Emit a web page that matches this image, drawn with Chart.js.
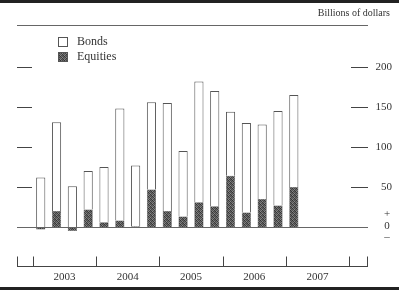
<!DOCTYPE html>
<html>
<head>
<meta charset="utf-8">
<script src="https://cdn.jsdelivr.net/npm/chart.js@4/dist/chart.umd.min.js"></script>
<style>
html, body { margin: 0; padding: 0; background: #fff; }
#wrap { position: relative; width: 399px; height: 291px; }
</style>
</head>
<body>
<div id="wrap"><canvas id="chart" width="399" height="291"></canvas></div>
<script>
// Quarterly issuance, billions of dollars (2002 Q4 and after 2007 Q1 are empty slots on the axis)
const quarters = ['2002 Q4',
  '2003 Q1', '2003 Q2', '2003 Q3', '2003 Q4',
  '2004 Q1', '2004 Q2', '2004 Q3', '2004 Q4',
  '2005 Q1', '2005 Q2', '2005 Q3', '2005 Q4',
  '2006 Q1', '2006 Q2', '2006 Q3', '2006 Q4',
  '2007 Q1', '2007 Q2', '2007 Q3', '2007 Q4',
  '2008 Q1'];
const years = ['2003', '2004', '2005', '2006', '2007'];
const bonds = [null, 62, 111, 51, 48, 69, 140, 76, 109, 135, 82, 151, 144, 80, 112, 93, 118, 115, null, null, null, null];
const equities = [null, -3, 20, -5, 22, 6, 8, 1, 47, 20, 13, 31, 26, 64, 18, 35, 27, 50, null, null, null, null];
const yTicks = [50, 100, 150, 200];

const serif = '"Liberation Serif", "DejaVu Serif", serif';
const ink = '#333';
const axisRight = 368;

// stippled fill for the equities bars
function stipple() {
  const c = document.createElement('canvas');
  c.width = 4; c.height = 4;
  const g = c.getContext('2d');
  const shades = ['#333', '#7a7a7a', '#4a4a4a', '#666',
                  '#6a6a6a', '#3c3c3c', '#888', '#454545',
                  '#555', '#808080', '#383838', '#707070',
                  '#8a8a8a', '#424242', '#5e5e5e', '#363636'];
  shades.forEach((s, i) => { g.fillStyle = s; g.fillRect(i % 4, Math.floor(i / 4), 1, 1); });
  return g.createPattern(c, 'repeat');
}
const equityFill = stipple();

const frame = {
  id: 'frame',
  afterDraw(chart) {
    const ctx = chart.ctx;
    const x = chart.scales.x, y = chart.scales.y;
    const area = chart.chartArea;
    const step = x.getPixelForValue(1) - x.getPixelForValue(0);
    const edge = i => x.getPixelForValue(i) - step / 2;
    ctx.save();

    // top and bottom rules
    ctx.fillStyle = '#222';
    ctx.fillRect(0, 0, 399, 3);
    ctx.fillRect(0, 287, 399, 3);

    ctx.font = '10px ' + serif;
    ctx.fillStyle = ink;
    ctx.textAlign = 'right';
    ctx.textBaseline = 'middle';
    ctx.fillText('Billions of dollars', 390, 13);

    ctx.strokeStyle = '#666';
    ctx.lineWidth = 1;
    ctx.beginPath();
    ctx.moveTo(area.left, 25.5); ctx.lineTo(axisRight, 25.5);
    ctx.stroke();

    // legend
    const ds = chart.data.datasets;
    const items = [ds[1], ds[0]];
    ctx.font = '12px ' + serif;
    ctx.textAlign = 'left';
    items.forEach((d, i) => {
      const ty = 42 + i * 15;
      ctx.fillStyle = d.backgroundColor;
      ctx.fillRect(58, ty - 5, 10, 10);
      ctx.strokeStyle = '#555';
      ctx.strokeRect(58.5, ty - 4.5, 9, 9);
      ctx.fillStyle = ink;
      ctx.fillText(d.label, 77, ty);
    });

    // y ticks on both sides
    ctx.strokeStyle = '#444';
    ctx.font = '11px ' + serif;
    ctx.textAlign = 'right';
    yTicks.forEach(v => {
      const py = Math.round(y.getPixelForValue(v)) + 0.5;
      ctx.beginPath();
      ctx.moveTo(area.left, py); ctx.lineTo(area.left + 15, py);
      ctx.moveTo(axisRight - 17, py); ctx.lineTo(axisRight, py);
      ctx.stroke();
      ctx.fillText(String(v), 392, py);
    });
    const zy = Math.round(y.getPixelForValue(0)) + 0.5;
    ctx.strokeStyle = '#666';
    ctx.beginPath();
    ctx.moveTo(area.left, zy); ctx.lineTo(axisRight, zy);
    ctx.stroke();
    ctx.textAlign = 'center';
    ctx.fillText('+', 387, zy - 13);
    ctx.fillText('0', 387, zy - 1);
    ctx.fillText('\u2013', 387, zy + 10);

    // bottom axis with year brackets
    ctx.strokeStyle = '#444';
    const by = area.bottom - 0.5;
    ctx.beginPath();
    ctx.moveTo(area.left, by); ctx.lineTo(axisRight, by);
    [area.left + 0.5, axisRight - 0.5].forEach(px => { ctx.moveTo(px, by); ctx.lineTo(px, by - 10); });
    years.forEach((yr, k) => {
      const i = quarters.indexOf(yr + ' Q1');
      const px = Math.round(edge(i)) + 0.5;
      ctx.moveTo(px, by); ctx.lineTo(px, by - 10);
      if (k === years.length - 1) {
        const pe = Math.round(edge(i + 4)) + 0.5;
        ctx.moveTo(pe, by); ctx.lineTo(pe, by - 10);
      }
    });
    ctx.stroke();
    ctx.font = '11px ' + serif;
    ctx.textBaseline = 'middle';
    years.forEach(yr => {
      const i = quarters.indexOf(yr + ' Q1');
      ctx.fillText(yr, (edge(i) + edge(i + 4)) / 2, 277);
    });
    ctx.restore();
  }
};

new Chart(document.getElementById('chart'), {
  type: 'bar',
  data: {
    labels: quarters,
    datasets: [
      { label: 'Equities', data: equities, backgroundColor: equityFill,
        borderColor: '#444', borderWidth: 0.5, stack: 's' },
      { label: 'Bonds', data: bonds, backgroundColor: '#fff',
        borderColor: '#555', borderWidth: 1, stack: 's' }
    ]
  },
  options: {
    responsive: false,
    animation: false,
    layout: { padding: { left: 17, right: 34, top: 27, bottom: 24 } },
    datasets: { bar: { barPercentage: 0.58, categoryPercentage: 1 } },
    plugins: { legend: { display: false }, tooltip: { enabled: false } },
    scales: {
      x: { display: false, stacked: true, offset: true, grid: { display: false } },
      y: { display: false, stacked: true, min: -50, max: 250 }
    }
  },
  plugins: [frame]
});
</script>
</body>
</html>
